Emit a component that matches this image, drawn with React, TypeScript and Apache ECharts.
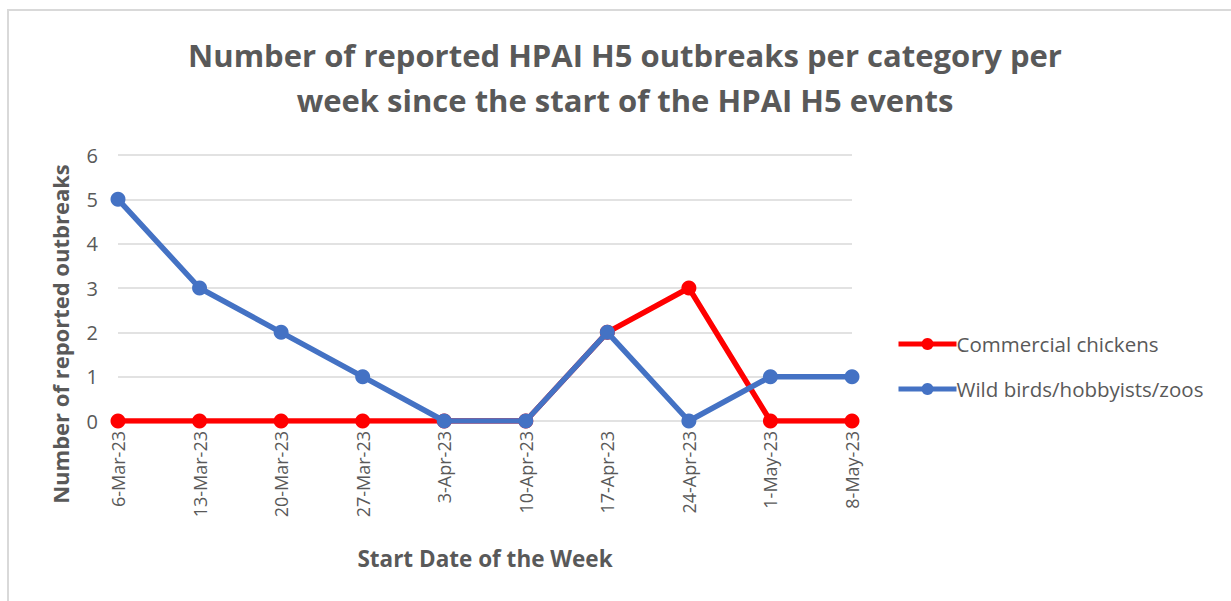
import React, { useEffect, useRef } from "react";
import * as echarts from "echarts";

const categories = ["6-Mar-23", "13-Mar-23", "20-Mar-23", "27-Mar-23", "3-Apr-23", "10-Apr-23", "17-Apr-23", "24-Apr-23", "1-May-23", "8-May-23"];
const commercialChickens = [0, 0, 0, 0, 0, 0, 2, 3, 0, 0];
const wildBirds = [5, 3, 2, 1, 0, 0, 2, 0, 1, 1];
const titleText = "Number of reported HPAI H5 outbreaks per category per\nweek since the start of the HPAI H5 events";
const FONT = "'Open Sans', sans-serif";
const GREY = "#595959";

export default function App() {
  const ref = useRef<HTMLDivElement>(null);
  useEffect(() => {
    const chart = echarts.init(ref.current!, null, { renderer: "svg" });
    chart.setOption({
      animation: false,
      backgroundColor: "#ffffff",
      textStyle: { fontFamily: FONT },
      graphic: [
        {
          type: "rect",
          shape: { x: 8, y: 10, width: 1300, height: 700 },
          style: { fill: "none", stroke: "#d9d9d9", lineWidth: 2 },
          silent: true,
          z: -1,
        },
        {
          type: "text",
          x: 60,
          y: 334,
          rotation: Math.PI / 2,
          style: {
            text: "Number of reported outbreaks",
            fontFamily: FONT,
            fontSize: 22,
            fontWeight: "bold",
            fill: GREY,
            align: "center",
            verticalAlign: "middle",
          },
        },
      ],
      title: {
        text: titleText,
        left: 620,
        top: 27,
        textAlign: "center",
        textStyle: { fontFamily: FONT, fontSize: 31, fontWeight: "bold", color: GREY, lineHeight: 45 },
      },
      legend: {
        orient: "vertical",
        left: 891,
        top: 328,
        itemWidth: 58,
        itemHeight: 15,
        itemGap: 23,
        lineStyle: { width: 5 },
        textStyle: { fontFamily: FONT, fontSize: 20.5, color: GREY, lineHeight: 22, padding: [0, 0, 0, -5] },
        data: ["Commercial chickens", "Wild birds/hobbyists/zoos"],
      },
      grid: { left: 118, right: 379, top: 155, bottom: 180, containLabel: false },
      xAxis: {
        type: "category",
        data: categories,
        boundaryGap: false,
        axisLine: { show: false },
        axisTick: { show: false },
        axisLabel: { rotate: 90, fontFamily: FONT, fontSize: 18, color: GREY, margin: 10, interval: 0 },
        name: "Start Date of the Week",
        nameLocation: "middle",
        nameGap: 126,
        nameTextStyle: { fontFamily: FONT, fontSize: 22.5, fontWeight: "bold", color: GREY },
      },
      yAxis: {
        type: "value",
        min: 0,
        max: 6,
        interval: 1,
        axisLine: { show: false },
        axisTick: { show: false },
        axisLabel: { fontFamily: FONT, fontSize: 20, color: GREY, margin: 20 },
        splitLine: { lineStyle: { color: "#d9d9d9", width: 1.5 } },
      },
      series: [
        {
          name: "Commercial chickens",
          type: "line",
          data: commercialChickens,
          color: "#ff0000",
          symbol: "circle",
          symbolSize: 15,
          lineStyle: { width: 5.5, color: "#ff0000" },
          itemStyle: { color: "#ff0000" },
          z: 2,
        },
        {
          name: "Wild birds/hobbyists/zoos",
          type: "line",
          data: wildBirds,
          color: "#4472c4",
          symbol: "circle",
          symbolSize: 15,
          lineStyle: { width: 5.5, color: "#4472c4" },
          itemStyle: { color: "#4472c4" },
          z: 3,
        },
      ],
    });
    return () => chart.dispose();
  }, []);
  return <div ref={ref} style={{ position: "fixed", left: 0, top: 0, width: 1231, height: 601 }} />;
}
